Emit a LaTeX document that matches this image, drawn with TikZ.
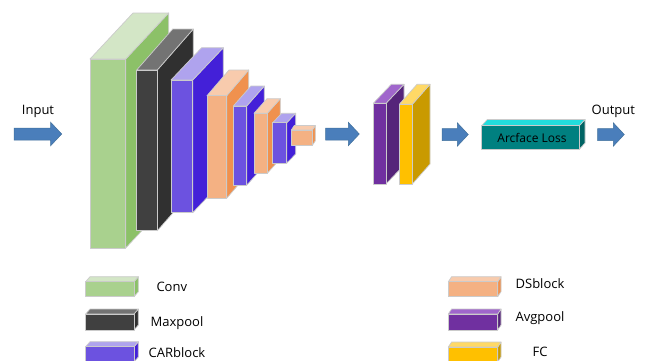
\documentclass[tikz,border=0pt]{standalone}
\usepackage{fontspec}
\setmainfont{Open Sans}
\usetikzlibrary{fit}
\definecolor{edgec}{HTML}{CBCBCB}
\definecolor{arrowblue}{HTML}{4A7EBB}
\definecolor{arrowedge}{HTML}{41719C}
\definecolor{greenf}{HTML}{A9D18E}\definecolor{greent}{HTML}{D3E6C6}\definecolor{greens}{HTML}{8CC168}
\definecolor{blackf}{HTML}{404040}\definecolor{blackt}{HTML}{737373}\definecolor{blacks}{HTML}{303030}
\definecolor{carf}{HTML}{6C52E0}\definecolor{cart}{HTML}{AFA3EE}\definecolor{cars}{HTML}{4320D8}
\definecolor{dsf}{HTML}{F4B183}\definecolor{dst}{HTML}{F8CBAD}\definecolor{dss}{HTML}{F0914E}
\definecolor{avgf}{HTML}{7030A0}\definecolor{avgt}{HTML}{A066CC}\definecolor{avgs}{HTML}{55247A}
\definecolor{fcf}{HTML}{FFC000}\definecolor{fct}{HTML}{FFD966}\definecolor{fcs}{HTML}{C99A00}
\definecolor{arcf}{HTML}{008080}\definecolor{arct}{HTML}{22DDDD}\definecolor{arcs}{HTML}{006464}
\tikzset{
  face/.style={draw=edgec, line width=0.7pt, line join=round},
  lbl/.style={font=\fontsize{13}{15}\selectfont, inner sep=0, anchor=base},
  blockarrow/.style={fill=arrowblue, draw=arrowedge, line width=0.5pt, line join=miter}
}
% name, x1, y1, x2, y2, dx, dy, colour prefix
\newcommand\cub[8]{%
  \coordinate (#1-a) at (#2,#3);
  \coordinate (#1-b) at (#4,#5);
  \path[face, fill=#8s] (#4,#3) -- (#4+#6,#3-#7) -- (#4+#6,#5-#7) -- (#4,#5) -- cycle;
  \path[face, fill=#8t] (#2,#3) -- (#2+#6,#3-#7) -- (#4+#6,#3-#7) -- (#4,#3) -- cycle;
  \node[fit=(#1-a)(#1-b), inner sep=0pt, face, fill=#8f] (#1) {};
}
% name, xstart, xend, ycentre
\newcommand\barrow[4]{%
  \coordinate (#1) at (#2,#4);
  \path[blockarrow] (#2,#4-6) -- (#3-11,#4-6) -- (#3-11,#4-11.7) -- (#3,#4)
     -- (#3-11,#4+11.7) -- (#3-11,#4+6) -- (#2,#4+6) -- cycle;
}
\begin{document}
\begin{tikzpicture}[x=1pt,y=-1pt]
\clip (0,0) rectangle (648,360);
\fill[white] (0,0) rectangle (648,360);
% input
\node[lbl] (inlbl) at (38,114.3) {Input};
\barrow{a1}{14}{61.7}{134}
% backbone
\cub{conv}{90}{59}{125.7}{248}{43}{46}{green}
\cub{maxp}{136.7}{70}{157.3}{230.7}{36}{41}{black}
\cub{car1}{171}{80}{192.7}{212.7}{30.6}{32.3}{car}
\cub{ds1}{207}{95.7}{226.7}{198.3}{22}{25.7}{ds}
\cub{car2}{233.3}{106}{246.7}{185.3}{17.6}{20}{car}
\cub{ds2}{254}{113.3}{267.3}{173.3}{13}{14.6}{ds}
\cub{car3}{272.7}{122.7}{286.7}{163.3}{9}{9.4}{car}
\cub{ds3}{291.3}{130}{312.3}{145.3}{3}{4.5}{ds}
\barrow{a2}{325.7}{359.3}{134}
% head
\cub{avg}{373.3}{103.3}{386}{184}{18}{19}{avg}
\cub{fc}{399.3}{104.3}{412.3}{184}{17.7}{20}{fc}
\barrow{a3}{442}{468.3}{134.5}
\cub{arc}{481.7}{125.7}{579.3}{149.3}{5.7}{6.3}{arc}
\node[lbl, font=\fontsize{12}{14}\selectfont] (arclbl) at (532,142.5) {Arcface Loss};
\barrow{a4}{597.7}{624.3}{134.5}
\node[lbl] (outlbl) at (613.3,114.3) {Output};
% legend
\cub{lconv}{85.7}{281.7}{134}{296.7}{4.3}{5}{green}
\cub{lmax}{85.7}{314}{134}{330}{4.3}{5}{black}
\cub{lcar}{85.7}{346.7}{134}{362}{4.3}{5}{car}
\node[lbl] (tconv) at (171.8,291.7) {Conv};
\node[lbl] (tmax) at (177,326) {Maxpool};
\node[lbl] (tcar) at (177,357) {CARblock};
\cub{lds}{448.3}{281.7}{497.7}{296.7}{3.3}{5}{ds}
\cub{lavg}{448.3}{314}{497.7}{330}{3.3}{5}{avg}
\cub{lfc}{448.3}{347}{497.7}{362}{3.3}{5}{fc}
\node[lbl] (tds) at (540,288.7) {DSblock};
\node[lbl] (tavg) at (540,321.7) {Avgpool};
\node[lbl] (tfc) at (540,356.7) {FC};
\end{tikzpicture}
\end{document}
